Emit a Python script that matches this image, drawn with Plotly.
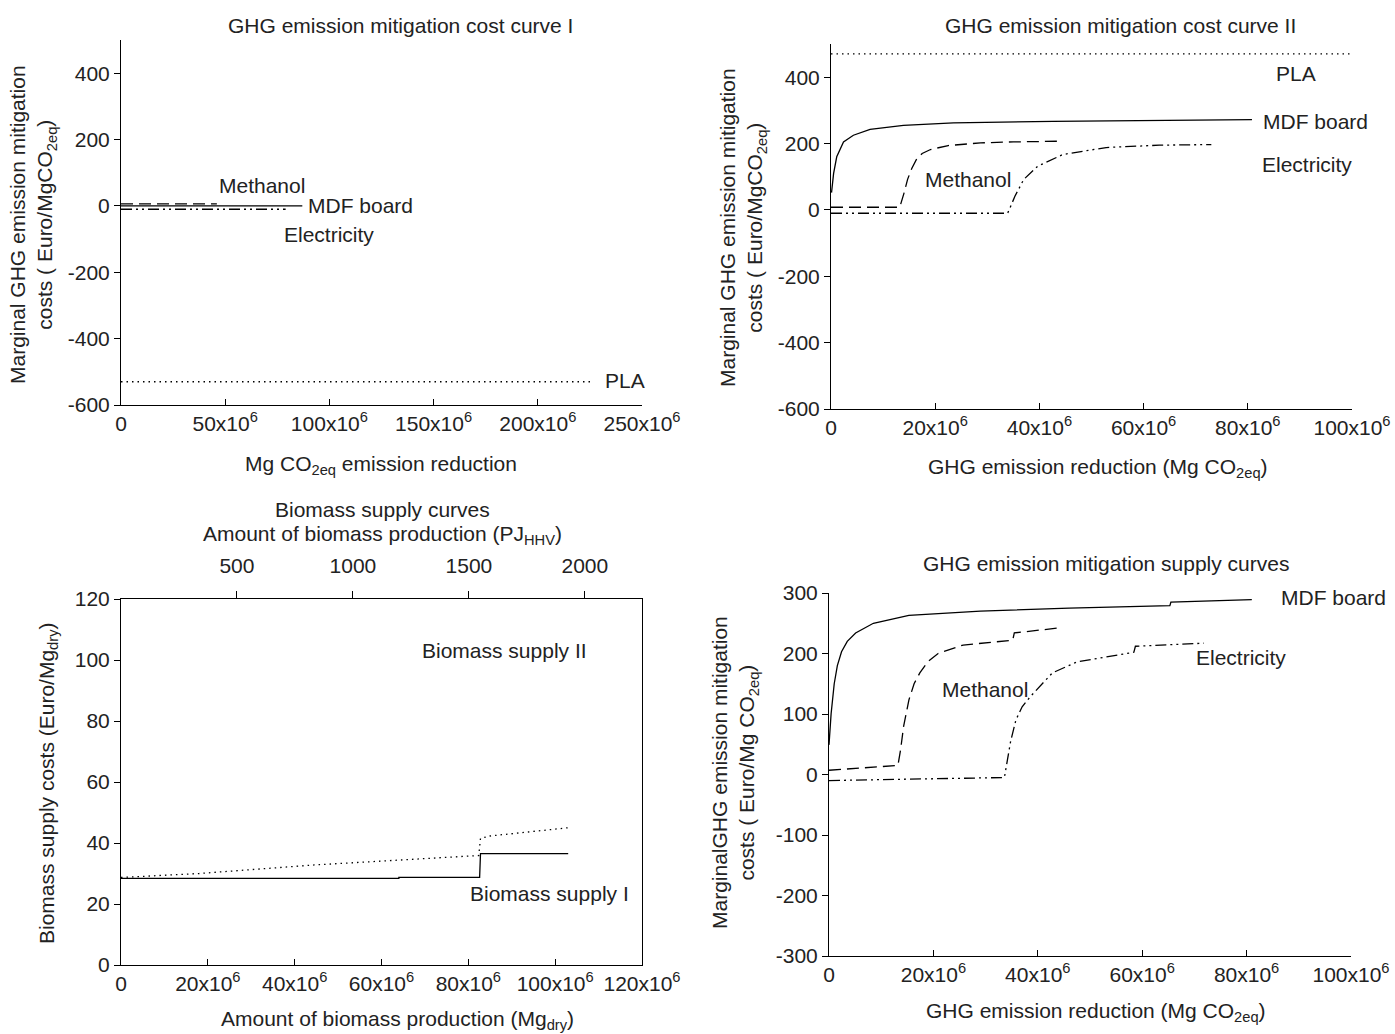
import plotly.graph_objects as go

# ---------------- data ----------------
# Panel I: GHG emission mitigation cost curve I
c1_mdf_x = [0, 87e6];   c1_mdf_y = [0, 0]
c1_meth_x = [0, 46e6];  c1_meth_y = [6, 6]
c1_elec_x = [0, 79e6];  c1_elec_y = [-10, -10]
c1_pla_x = [0, 226e6];  c1_pla_y = [-530, -530]

# Panel II: GHG emission mitigation cost curve II
c2_mdf_x = [0.1e6, 0.5e6, 1.1e6, 2.4e6, 4.3e6, 7.5e6, 13.9e6, 23.5e6, 42.6e6, 60e6, 80.8e6]
c2_mdf_y = [52, 110, 160, 205, 225, 243, 255, 262, 267, 270, 272]
c2_meth_x = [0, 13.2e6, 14.0e6, 14.7e6, 15.5e6, 16.4e6, 17.5e6, 19.1e6, 22.5e6, 28.7e6, 35e6, 44e6]
c2_meth_y = [8, 8, 50, 92, 125, 152, 170, 182, 194, 202, 205, 207]
c2_elec_x = [0, 33.9e6, 34.6e6, 35.3e6, 37e6, 39.7e6, 44.5e6, 52.8e6, 63e6, 73e6]
c2_elec_y = [-10, -10, 15, 41, 92, 132, 167, 188, 195, 197]
c2_pla_x = [0, 100e6];  c2_pla_y = [470, 470]

# Biomass supply curves
bs1_x = [0, 64e6, 64e6, 82.6e6, 82.8e6, 103e6]
bs1_y = [28.4, 28.4, 28.7, 28.7, 36.5, 36.5]
bs2_x = [0, 18e6, 44.5e6, 82.4e6, 82.8e6, 85e6, 103e6]
bs2_y = [28.7, 30, 32.8, 35.9, 41.5, 42.3, 45]
HHV = 18.72  # GJ per Mg dry (top axis conversion)

# GHG emission mitigation supply curves
c3_mdf_x = [0, 0.4e6, 1.0e6, 1.6e6, 2.4e6, 3.5e6, 5.1e6, 8.5e6, 15.3e6, 29e6, 46e6, 65.3e6, 65.5e6, 81e6]
c3_mdf_y = [49, 100, 150, 180, 203, 220, 234, 250, 263, 270, 275, 279, 285, 289]
c3_meth_x = [0, 13.2e6, 13.7e6, 14.3e6, 15.3e6, 16.3e6, 17.4e6, 19e6, 20.9e6, 25.7e6, 35.2e6, 35.5e6, 43.8e6]
c3_meth_y = [7, 15, 40, 80, 123, 150, 168, 187, 200, 214, 222, 234, 242]
c3_elec_x = [0, 33.6e6, 34.2e6, 34.8e6, 35.8e6, 37e6, 38.6e6, 42.8e6, 47.5e6, 58.4e6, 58.7e6, 71.8e6]
c3_elec_y = [-10, -5, 25, 55, 90, 112, 129, 168, 186, 202, 212, 217]

# tick labels
t1_vals = [0, 50e6, 100e6, 150e6, 200e6, 250e6]
t1_text = ["0", "50x10<sup>6</sup>", "100x10<sup>6</sup>", "150x10<sup>6</sup>", "200x10<sup>6</sup>", "250x10<sup>6</sup>"]
t2_vals = [0, 20e6, 40e6, 60e6, 80e6, 100e6]
t2_text = ["0", "20x10<sup>6</sup>", "40x10<sup>6</sup>", "60x10<sup>6</sup>", "80x10<sup>6</sup>", "100x10<sup>6</sup>"]
t3_vals = [0, 20e6, 40e6, 60e6, 80e6, 100e6, 120e6]
t3_text = ["0", "20x10<sup>6</sup>", "40x10<sup>6</sup>", "60x10<sup>6</sup>", "80x10<sup>6</sup>", "100x10<sup>6</sup>", "120x10<sup>6</sup>"]
top_vals = [500, 1000, 1500, 2000]
y1_vals = [-600, -400, -200, 0, 200, 400]
y1_text = ["-600", "-400", "-200", "0", "200", "400"]
y3_vals = [0, 20, 40, 60, 80, 100, 120]
y4_vals = [-300, -200, -100, 0, 100, 200, 300]
y4_text = ["-300", "-200", "-100", "0", "100", "200", "300"]

# ---------------- styles ----------------
FONT = "Liberation Sans, Arial, Helvetica, sans-serif"
FS = 21
TFS = 21
LW = 1.3
SOLID = "solid"
DASH = "12px,6px"
DDOT = "11px,4px,2px,4px,2px,4px"
DOT = "1.5px,4px"
INK = "#222"

fig = go.Figure()

def line(x, y, dash, xa, ya, w=LW):
    fig.add_trace(go.Scatter(x=x, y=y, mode="lines", xaxis=xa, yaxis=ya,
                             line=dict(color="black", width=w, dash=dash),
                             hoverinfo="skip", showlegend=False))

line(c1_pla_x, c1_pla_y, DOT, "x", "y")
line(c1_meth_x, c1_meth_y, DASH, "x", "y")
line(c1_elec_x, c1_elec_y, DDOT, "x", "y")
line(c1_mdf_x, c1_mdf_y, SOLID, "x", "y")

line(c2_pla_x, c2_pla_y, DOT, "x2", "y2")
line(c2_mdf_x, c2_mdf_y, SOLID, "x2", "y2")
line(c2_meth_x, c2_meth_y, DASH, "x2", "y2")
line(c2_elec_x, c2_elec_y, DDOT, "x2", "y2")

line(bs1_x, bs1_y, SOLID, "x3", "y3")
line(bs2_x, bs2_y, DOT, "x3", "y3")
# invisible helper trace so the top (PJ) axis is drawn
fig.add_trace(go.Scatter(x=top_vals, y=[0] * len(top_vals), mode="markers", xaxis="x5", yaxis="y3",
                         marker=dict(opacity=0), hoverinfo="skip", showlegend=False))

line(c3_mdf_x, c3_mdf_y, SOLID, "x4", "y4")
line(c3_meth_x, c3_meth_y, DASH, "x4", "y4")
line(c3_elec_x, c3_elec_y, DDOT, "x4", "y4")

W, H = 1395, 1034
def dx(a, b): return [a / W, b / W]
def dy(top, bot): return [1 - bot / H, 1 - top / H]

tickfont = dict(family=FONT, size=TFS, color=INK)
common_x = dict(showline=True, linecolor="black", linewidth=1, ticks="inside", ticklen=6,
                tickcolor="black", showgrid=False, zeroline=False, tickfont=tickfont,
                automargin=False)
common_y = dict(showline=True, linecolor="black", linewidth=1, ticks="outside", ticklen=6,
                tickcolor="black", showgrid=False, zeroline=False, tickfont=tickfont,
                automargin=False)

fig.update_layout(
    template="none",
    width=W, height=H, margin=dict(l=0, r=0, t=0, b=0, pad=0),
    paper_bgcolor="white", plot_bgcolor="white",
    font=dict(family=FONT, size=FS, color=INK),
    showlegend=False,
    xaxis=dict(domain=dx(121, 642), range=[0, 250e6], anchor="y",
               tickvals=t1_vals, ticktext=t1_text, **common_x),
    yaxis=dict(domain=dy(40, 405), range=[-600, 500], anchor="x",
               tickvals=y1_vals, ticktext=y1_text, **common_y),
    xaxis2=dict(domain=dx(831, 1352), range=[0, 100e6], anchor="y2",
                tickvals=t2_vals, ticktext=t2_text, **common_x),
    yaxis2=dict(domain=dy(44, 409), range=[-600, 500], anchor="x2",
                tickvals=y1_vals, ticktext=y1_text, **common_y),
    xaxis3=dict(domain=dx(121, 642), range=[0, 120e6], anchor="y3",
                tickvals=t3_vals, ticktext=t3_text, **common_x),
    yaxis3=dict(domain=dy(599, 965), range=[0, 120], anchor="x3", mirror=True,
                tickvals=y3_vals, **common_y),
    xaxis5=dict(overlaying="x3", side="top", anchor="y3", range=[0, 120e6 * HHV / 1e6],
                tickvals=top_vals, showline=True, linecolor="black", linewidth=1,
                ticks="outside", ticklen=7, tickcolor="black", showgrid=False,
                zeroline=False, tickfont=tickfont, automargin=False, ticklabelstandoff=10),
    xaxis4=dict(domain=dx(829, 1351), range=[0, 100e6], anchor="y4",
                tickvals=t2_vals, ticktext=t2_text, **common_x),
    yaxis4=dict(domain=dy(593, 956), range=[-300, 300], anchor="x4",
                tickvals=y4_vals, ticktext=y4_text, **common_y),
)

ann = []
def label(text, x, y, xref, yref, xanchor="center", angle=0, size=FS):
    ann.append(dict(text=text, x=x, y=y, xref=xref, yref=yref, xanchor=xanchor,
                    yanchor="middle", showarrow=False, textangle=angle,
                    font=dict(family=FONT, size=size, color=INK)))

# in-plot labels
label("Methanol", 67.7e6, 60, "x", "y")
label("MDF board", 89e6, 0, "x", "y", xanchor="left")
label("Electricity", 99.8e6, -87, "x", "y")
label("PLA", 242e6, -525, "x", "y")

label("PLA", 89.3e6, 412, "x2", "y2")
label("MDF board", 92.9e6, 267, "x2", "y2")
label("Electricity", 91.4e6, 137, "x2", "y2")
label("Methanol", 26.3e6, 92, "x2", "y2")

label("Biomass supply II", 88.4e6, 103, "x3", "y3")
label("Biomass supply I", 98.8e6, 23.6, "x3", "y3")

label("MDF board", 96.6e6, 292, "x4", "y4")
label("Electricity", 78.9e6, 194, "x4", "y4")
label("Methanol", 29.9e6, 141, "x4", "y4")

# titles
label("GHG emission mitigation cost curve I", 400 / W, 1 - 25 / H, "paper", "paper")
label("GHG emission mitigation cost curve II", 1120 / W, 1 - 25 / H, "paper", "paper")
label("Biomass supply curves", 382 / W, 1 - 509 / H, "paper", "paper")
label("Amount of biomass production (PJ<sub>HHV</sub>)", 382 / W, 1 - 535 / H, "paper", "paper")
label("GHG emission mitigation supply curves", 1106 / W, 1 - 563 / H, "paper", "paper")

# axis titles
label("Mg CO<sub>2eq</sub> emission reduction", 381 / W, 1 - 465 / H, "paper", "paper")
label("GHG emission reduction (Mg CO<sub>2eq</sub>)", 1098 / W, 1 - 468 / H, "paper", "paper")
label("Amount of biomass production (Mg<sub>dry</sub>)", 397 / W, 1 - 1020 / H, "paper", "paper")
label("GHG emission reduction (Mg CO<sub>2eq</sub>)", 1096 / W, 1 - 1012 / H, "paper", "paper")

label("Marginal GHG emission mitigation<br>costs ( Euro/MgCO<sub>2eq</sub>)", 33 / W, 1 - 225 / H,
      "paper", "paper", angle=-90)
label("Marginal GHG emission mitigation<br>costs ( Euro/MgCO<sub>2eq</sub>)", 743 / W, 1 - 228 / H,
      "paper", "paper", angle=-90)
label("Biomass supply costs (Euro/Mg<sub>dry</sub>)", 48 / W, 1 - 783 / H, "paper", "paper", angle=-90)
label("MarginalGHG emission mitigation<br>costs ( Euro/Mg CO<sub>2eq</sub>)", 735 / W, 1 - 773 / H,
      "paper", "paper", angle=-90)

fig.update_layout(annotations=ann)
fig.write_html("out.html",
               config={"displayModeBar": False, "staticPlot": True},
               post_script="document.body.style.margin='0px';document.body.style.padding='0px';"
                           "document.body.style.overflow='hidden';")
